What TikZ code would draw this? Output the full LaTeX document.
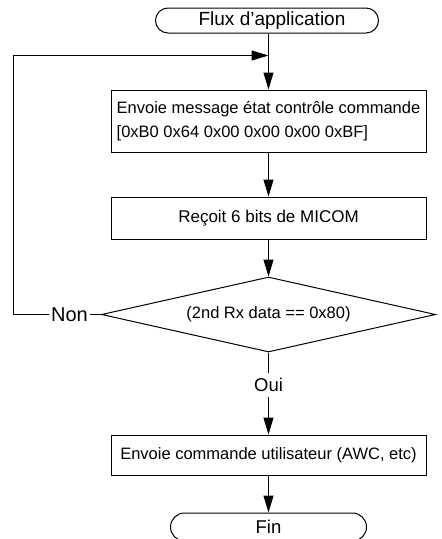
\documentclass[tikz,border=0pt]{standalone}
\usepackage{fontspec}
\setmainfont{Liberation Sans}
\usetikzlibrary{shapes.geometric,arrows.meta}
\begin{document}
\begin{tikzpicture}[x=1pt,y=-1pt,
  line width=1pt,
  font=\fontsize{16.5}{23.5}\selectfont,
  term/.style={draw, rounded corners=12.5pt, minimum width=223pt, minimum height=25pt, inner sep=0pt, font=\fontsize{19}{23}\selectfont},
  proc/.style={draw, minimum width=315pt, inner sep=4pt},
  dec/.style={draw, diamond, aspect=4.45, minimum width=334pt, minimum height=75pt, inner sep=0pt},
  lbl/.style={inner sep=1.5pt, font=\fontsize{19}{23}\selectfont},
  arr/.style={-{Triangle[length=17pt,width=10pt]}}
]
\useasboundingbox (0,0) rectangle (442,539);
\node[term] (start) at (267,20.5) {\hspace*{10pt}Flux d’application};
\node[proc, minimum height=62pt, align=left] (b1) at (268.5,121) {Envoie message état contrôle commande\\{}[0xB0 0x64 0x00 0x00 0x00 0xBF]};
\node[proc, minimum height=42pt, font=\fontsize{17}{20}\selectfont] (b2) at (268.5,218) {Reçoit 6 bits de MICOM};
\node[dec] (d) at (268.5,314.5) {(2nd Rx data == 0x80)};
\node[lbl, font=\fontsize{20}{24}\selectfont] (non) at (69.5,314.5) {Non};
\node[lbl, inner ysep=5pt, font=\fontsize{18.5}{22}\selectfont] (oui) at (268.5,385) {Oui};
\node[proc, minimum height=40pt] (b3) at (268.5,455) {Envoie commande utilisateur (AWC, etc)};
\node[term, minimum width=196pt, minimum height=28pt, rounded corners=14pt, font=\fontsize{18.5}{22}\selectfont] (fin) at (268.5,527) {Fin};
\coordinate (m) at (268.5,55.5);
\coordinate (corner) at (13,55.5);
\draw[arr] (start.south -| b1.north) -- (b1.north);
\draw[arr] (b1) -- (b2);
\draw[arr] (b2) -- (d);
\draw (d.west) -- (non.east);
\draw[arr] (non.west) -| (corner) -- (m);
\draw (d.south) -- (oui.north);
\draw[arr] (oui.south) -- (b3.north);
\draw[arr] (b3) -- (fin);
\end{tikzpicture}
\end{document}
